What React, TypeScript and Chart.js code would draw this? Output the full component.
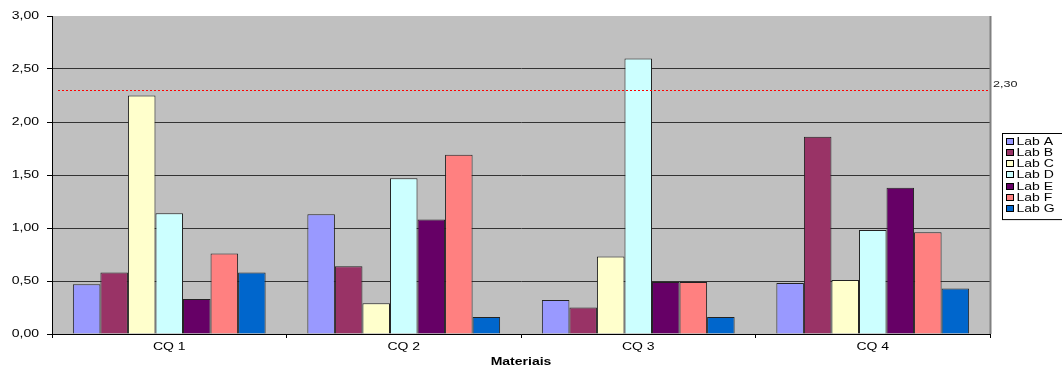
import React, { useEffect, useRef } from "react";
import { Chart, registerables } from "chart.js";

Chart.register(...registerables);

const categories = ["CQ 1", "CQ 2", "CQ 3", "CQ 4"];
const labNames = ["Lab A", "Lab B", "Lab C", "Lab D", "Lab E", "Lab F", "Lab G"];
const labA = [0.47, 1.13, 0.32, 0.48];
const labB = [0.58, 0.64, 0.25, 1.86];
const labC = [2.25, 0.29, 0.73, 0.51];
const labD = [1.14, 1.47, 2.6, 0.98];
const labE = [0.33, 1.08, 0.49, 1.38];
const labF = [0.76, 1.69, 0.49, 0.96];
const labG = [0.58, 0.16, 0.16, 0.43];
const labColors = ["#9999FF", "#993366", "#FFFFCC", "#CCFFFF", "#660066", "#FF8080", "#0066CC"];
const limitValue = 2.3;
const xTitle = "Materiais";

const FONT = 'Arial, "Liberation Sans", sans-serif';
const STRETCH = 1.4; // wide lettering used for every label
const fmt = (v: number) => v.toFixed(2).replace(".", ",");

function wideText(
  ctx: CanvasRenderingContext2D,
  text: string,
  x: number,
  y: number,
  align: CanvasTextAlign,
  font: string,
  color = "#000"
) {
  ctx.save();
  ctx.translate(x, y);
  ctx.scale(STRETCH, 1);
  ctx.font = font;
  ctx.fillStyle = color;
  ctx.textAlign = align;
  ctx.textBaseline = "middle";
  ctx.fillText(text, 0, 0);
  ctx.restore();
}

// grey plot background, axis labels, dotted limit line and the boxed legend
const decorations = {
  id: "decorations",
  beforeDraw(chart: any) {
    const { ctx, chartArea: a } = chart;
    ctx.save();
    ctx.fillStyle = "#FFFFFF";
    ctx.fillRect(0, 0, chart.width, chart.height);
    ctx.fillStyle = "#C0C0C0";
    ctx.fillRect(a.left, a.top, a.right - a.left, a.bottom - a.top);
    ctx.restore();
  },
  afterDatasetsDraw(chart: any) {
    const { ctx, chartArea: a, scales } = chart;
    ctx.save();
    // right edge of plot area
    ctx.strokeStyle = "#808080";
    ctx.lineWidth = 2;
    ctx.beginPath();
    ctx.moveTo(a.right + 0.5, a.top);
    ctx.lineTo(a.right + 0.5, a.bottom);
    ctx.stroke();

    // value axis labels
    scales.y.ticks.forEach((t: any) => {
      wideText(ctx, fmt(t.value), 39, scales.y.getPixelForValue(t.value), "right", `10px ${FONT}`);
    });
    // category labels and axis title
    categories.forEach((c, i) => {
      wideText(ctx, c, scales.x.getPixelForValue(i), a.bottom + 13, "center", `10px ${FONT}`);
    });
    wideText(ctx, xTitle, (a.left + a.right) / 2, a.bottom + 28, "center", `bold 10px ${FONT}`);

    // limit line
    const y = Math.round(scales.y.getPixelForValue(limitValue)) + 0.5;
    ctx.strokeStyle = "#FF0000";
    ctx.lineWidth = 1;
    ctx.setLineDash([2, 2]);
    ctx.beginPath();
    ctx.moveTo(a.left + 6, y);
    ctx.lineTo(a.right, y);
    ctx.stroke();
    ctx.setLineDash([]);
    wideText(ctx, fmt(limitValue), a.right + 3, y - 6, "left", `9px ${FONT}`, "#222");

    // legend
    const lx = 1002.5;
    const ly = 133.5;
    const step = 11.3;
    const n = chart.data.datasets.length;
    ctx.strokeStyle = "#000";
    ctx.lineWidth = 1;
    ctx.strokeRect(lx, ly, 70, 8 + step * n - 1);
    chart.data.datasets.forEach((ds: any, i: number) => {
      const cy = Math.round(ly + 8 + i * step);
      ctx.fillStyle = ds.backgroundColor;
      ctx.fillRect(lx + 4, cy - 3.5, 7, 6);
      ctx.strokeStyle = "#000";
      ctx.strokeRect(lx + 4, cy - 3.5, 7, 6);
      wideText(ctx, ds.label, lx + 14, cy, "left", `10px ${FONT}`);
    });
    ctx.restore();
  },
};

export default function App() {
  const ref = useRef<HTMLCanvasElement>(null);

  useEffect(() => {
    const series = [labA, labB, labC, labD, labE, labF, labG];
    const chart = new Chart(ref.current!, {
      type: "bar",
      data: {
        labels: categories,
        datasets: series.map((d, i) => ({
          label: labNames[i],
          data: d,
          backgroundColor: labColors[i],
          borderColor: "#222",
          borderWidth: 1,
          barPercentage: 1,
          categoryPercentage: 0.822,
        })),
      },
      options: {
        animation: false,
        responsive: true,
        maintainAspectRatio: false,
        layout: { padding: { top: 16, right: 72, left: 0, bottom: 0 } },
        plugins: { legend: { display: false }, tooltip: { enabled: false } },
        scales: {
          x: {
            afterFit: (s: any) => {
              s.height = 33;
            },
            border: { color: "#000", width: 1 },
            grid: { drawOnChartArea: false, drawTicks: true, tickLength: 4, color: "#000" },
            ticks: { display: false },
          },
          y: {
            min: 0,
            max: 3,
            afterFit: (s: any) => {
              s.width = 52;
            },
            border: { color: "#000", width: 1 },
            grid: {
              color: (c: any) => (c.tick && c.tick.value === 3 ? "rgba(0,0,0,0)" : "#333"),
              tickColor: "#000",
              tickLength: 5,
            },
            ticks: { display: false, stepSize: 0.5 },
          },
        },
      },
      plugins: [decorations],
    });
    return () => chart.destroy();
  }, []);

  return (
    <div style={{ position: "fixed", left: 0, top: 0, width: 1062, height: 367, background: "#fff" }}>
      <canvas ref={ref} />
    </div>
  );
}
